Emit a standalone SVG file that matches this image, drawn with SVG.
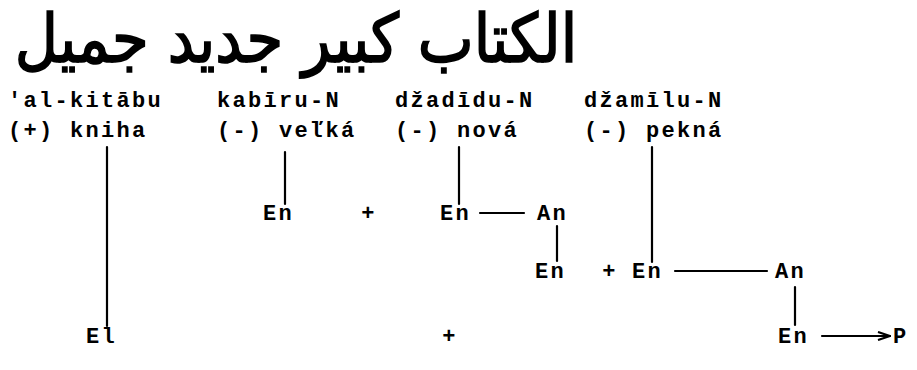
<svg xmlns="http://www.w3.org/2000/svg" width="917" height="370" viewBox="0 0 917 370">
<style>
.t{font-family:"Liberation Mono","DejaVu Sans Mono",monospace;font-size:22px;font-weight:bold;letter-spacing:2.3px;fill:#000}
.ar{font-family:"DejaVu Sans",sans-serif;font-size:54px;font-weight:normal;fill:#000;stroke:#000;stroke-width:1.4}
.ln{stroke:#000;stroke-width:2.2;fill:none;stroke-linecap:round}
</style>
<defs>
<marker id="ah" markerWidth="14" markerHeight="10" refX="13" refY="5" orient="auto" markerUnits="userSpaceOnUse">
<path d="M1,1 L13,5 L1,9" fill="none" stroke="#000" stroke-width="2.2"/>
</marker>
</defs>
<rect width="917" height="370" fill="#fff"/>
<g id="arabic"><text class="ar" transform="translate(296,62) scale(1.1,1.25)" x="0" y="0" text-anchor="middle">الكتاب كبير جديد جميل</text></g>
<g id="w1"><text class="t" x="8" y="107">'al-kitābu</text><text class="t" x="8" y="137">(+) kniha</text></g>
<g id="w2"><text class="t" x="217" y="107">kabīru-N</text><text class="t" x="217" y="137">(-) veľká</text></g>
<g id="w3"><text class="t" x="395" y="107">džadīdu-N</text><text class="t" x="395" y="137">(-) nová</text></g>
<g id="w4"><text class="t" x="584" y="107">džamīlu-N</text><text class="t" x="584" y="137">(-) pekná</text></g>
<g id="r1">
<text class="t" x="263" y="220">En</text>
<text class="t" x="369" y="220" text-anchor="middle">+</text>
<text class="t" x="440" y="220">En</text>
<text class="t" x="537" y="220">An</text>
</g>
<g id="r2">
<text class="t" x="535" y="278">En</text>
<text class="t" x="610" y="278" text-anchor="middle">+</text>
<text class="t" x="632" y="278">En</text>
<text class="t" x="775" y="278">An</text>
</g>
<g id="r3">
<text class="t" x="86" y="343">El</text>
<text class="t" x="450" y="343" text-anchor="middle">+</text>
<text class="t" x="778" y="343">En</text>
<text class="t" x="893" y="343">P</text>
</g>
<g id="connectors">
<line class="ln" x1="107" y1="147" x2="107" y2="326"/>
<line class="ln" x1="285" y1="152" x2="285" y2="204"/>
<line class="ln" x1="459" y1="147" x2="459" y2="204"/>
<line class="ln" x1="480" y1="213" x2="524" y2="213"/>
<line class="ln" x1="557" y1="226" x2="557" y2="261"/>
<line class="ln" x1="652" y1="147" x2="652" y2="262"/>
<line class="ln" x1="675" y1="271" x2="767" y2="271"/>
<line class="ln" x1="795" y1="287" x2="795" y2="325"/>
<line class="ln" x1="822" y1="336" x2="890" y2="336" marker-end="url(#ah)"/>
</g>
</svg>
